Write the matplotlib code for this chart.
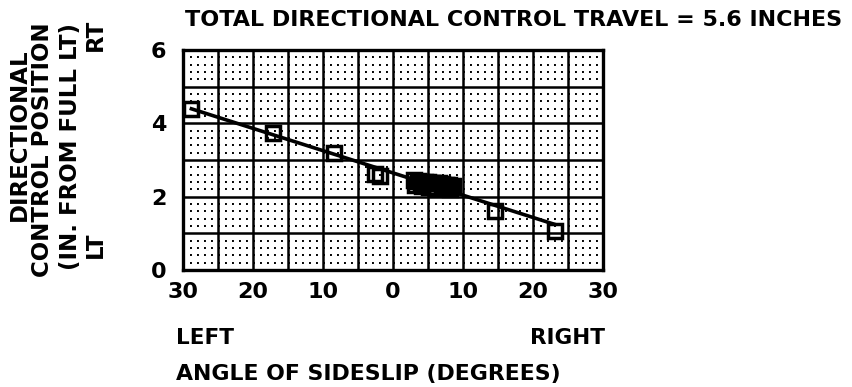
import numpy as np
import matplotlib
matplotlib.use("Agg")
import matplotlib.pyplot as plt
from matplotlib.ticker import MultipleLocator

plt.rcParams['font.family'] = ['DejaVu Sans']
plt.rcParams['font.weight'] = 'bold'

# sideslip angle, degrees (negative = left), and pedal position in inches from full left
beta = [-28.8, -17.1, -8.5, -2.6, -1.9,
        3.0, 3.5, 4.0, 4.5, 5.0, 5.5, 6.0, 6.5, 7.0, 7.5, 8.0, 8.5,
        3.2, 4.2, 5.2, 6.2, 7.2, 8.2,
        14.6, 23.1]
pedal = [4.38, 3.73, 3.18, 2.62, 2.56,
         2.45, 2.43, 2.41, 2.40, 2.39, 2.38, 2.37, 2.36, 2.35, 2.33, 2.31, 2.28,
         2.33, 2.30, 2.27, 2.25, 2.23, 2.20,
         1.62, 1.07]

xticks = [-30, -25, -20, -15, -10, -5, 0, 5, 10, 15, 20, 25, 30]
xtick_labels = ['30', '', '20', '', '10', '', '0', '', '10', '', '20', '', '30']
yticks = [0, 1, 2, 3, 4, 5, 6]
ytick_labels = ['0', '', '2', '', '4', '', '6']

fig = plt.figure(figsize=(8.52, 3.87), dpi=100)
ax = fig.add_axes([183 / 852, 1 - 270 / 387, 420 / 852, 220 / 387])

ax.set_xlim(-30, 30)
ax.set_ylim(0, 6)
ax.set_xticks(xticks)
ax.set_xticklabels(xtick_labels)
ax.set_yticks(yticks)
ax.set_yticklabels(ytick_labels)

# grid: solid major lines, dotted minor rows
ax.yaxis.set_minor_locator(MultipleLocator(0.2))
ax.grid(which='major', color='black', linewidth=1.8)
ax.grid(which='minor', axis='y', color='black', linewidth=1.4,
        linestyle=(0, (1, 2.6)))
ax.set_axisbelow(True)
for s in ax.spines.values():
    s.set_linewidth(2.4)

ax.tick_params(which='both', length=0, labelsize=16)
ax.tick_params(axis='x', pad=9)
ax.tick_params(axis='y', pad=12)

# fairing line through the data
k, b = np.polyfit(beta, pedal, 1)
xs = np.array([min(beta), max(beta)])
ax.plot(xs, k * xs + b, color='black', linewidth=2.6, zorder=3)
ax.plot(beta, pedal, linestyle='none', marker='s', markersize=10,
        markerfacecolor='none', markeredgecolor='black',
        markeredgewidth=2.5, zorder=4)

fig.text(185 / 852, 1 - 20 / 387,
         'TOTAL DIRECTIONAL CONTROL TRAVEL = 5.6 INCHES',
         fontsize=16, ha='left', va='center')
fig.text(176 / 852, 1 - 338 / 387, 'LEFT', fontsize=15.5, ha='left', va='center')
fig.text(605 / 852, 1 - 338 / 387, 'RIGHT', fontsize=15.5, ha='right', va='center')
fig.text(176 / 852, 1 - 374 / 387, 'ANGLE OF SIDESLIP (DEGREES)',
         fontsize=15.8, ha='left', va='center')

# stacked y-axis caption
ylab = dict(fontsize=16.5, rotation=90, ha='center', va='center')
fig.text(19 / 852, 1 - 135 / 387, 'DIRECTIONAL', **ylab)
fig.text(43 / 852, 1 - 150 / 387, 'CONTROL POSITION', **ylab)
fig.text(70 / 852, 1 - 147 / 387, '(IN. FROM FULL LT)', **ylab)
fig.text(95 / 852, 1 - 245 / 387, 'LT', **ylab)
fig.text(95 / 852, 1 - 35 / 387, 'RT', **ylab)

fig.savefig('out.png', dpi=100)
